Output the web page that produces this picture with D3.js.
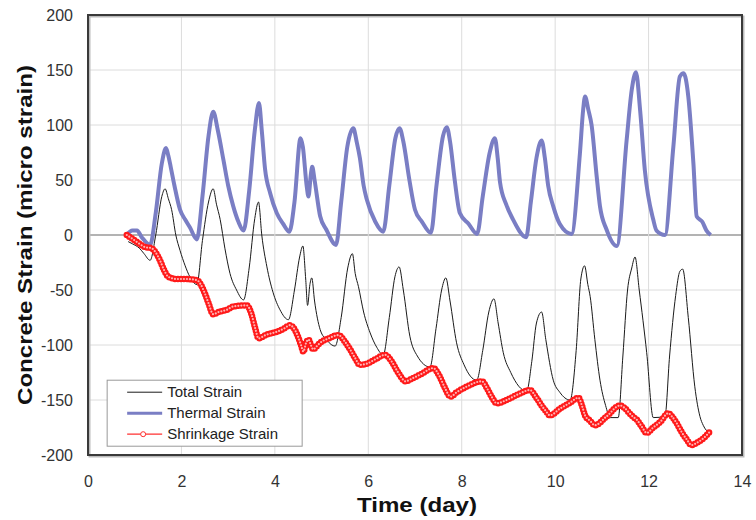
<!DOCTYPE html>
<html>
<head>
<meta charset="utf-8">
<script src="https://cdn.jsdelivr.net/npm/d3@7"></script>
<style>
  body { margin: 0; background: #fff; }
  svg { font-family: "Liberation Sans", Arial, sans-serif; }
</style>
</head>
<body>
<svg id="chart" width="756" height="520"></svg>
<script>
/* podaci - ocitano sa slike: [dan, mikro deformacija] */
var xTicks = [0, 2, 4, 6, 8, 10, 12, 14];
var yTicks = [-200, -150, -100, -50, 0, 50, 100, 150, 200];
var seriesNames = ["Total Strain", "Thermal Strain", "Shrinkage Strain"];

var thermalStrain = [
  [0.83,0],[0.95,4],[1.05,4],[1.15,-2],[1.33,-9],[1.45,20],[1.58,65],[1.67,79],[1.72,72],[1.77,62],
  [1.85,45],[1.97,23],[2.08,14],[2.18,7],[2.33,-4],[2.45,35],[2.58,90],[2.68,112],[2.78,95],[2.9,68],
  [3.0,45],[3.11,26],[3.22,12],[3.33,4],[3.45,40],[3.57,95],[3.66,120],[3.72,95],[3.79,60],[3.9,38],
  [4.04,20],[4.18,10],[4.31,3],[4.42,30],[4.55,88],[4.6,80],[4.68,45],[4.72,35],[4.77,55],[4.8,62],
  [4.85,50],[4.97,17],[5.1,5],[5.31,-9],[5.42,30],[5.55,80],[5.68,97],[5.75,85],[5.82,70],[5.9,45],
  [5.97,32],[6.15,12],[6.32,3],[6.45,45],[6.58,88],[6.67,97],[6.75,85],[6.88,50],[7.0,23],[7.15,12],
  [7.34,2],[7.46,45],[7.6,90],[7.68,98],[7.75,85],[7.85,50],[7.96,20],[8.15,10],[8.33,1],[8.45,35],
  [8.6,75],[8.71,88],[8.77,70],[8.82,48],[8.95,28],[9.1,14],[9.38,-2],[9.48,30],[9.6,70],[9.71,86],
  [9.78,70],[9.85,45],[9.96,26],[10.1,10],[10.35,1],[10.53,74],[10.6,114],[10.64,126],[10.71,114],[10.78,100],
  [10.89,53],[10.96,26],[11.1,5],[11.32,-10],[11.53,86],[11.64,132],[11.73,148],[11.82,113],[11.92,59],[12.1,14],
  [12.17,4],[12.35,0],[12.53,80],[12.67,144],[12.75,147],[12.85,126],[12.96,65],[13.03,17],[13.15,12],[13.24,4],
  [13.33,0]
];

var totalStrain = [
  [0.86,-6],[0.95,-8],[1.1,-12],[1.2,-17],[1.33,-23],[1.45,0],[1.58,35],[1.65,42],[1.72,33],[1.79,23],
  [1.88,0],[1.97,-14],[2.08,-28],[2.18,-38],[2.33,-45],[2.45,-5],[2.58,30],[2.68,42],[2.75,28],[2.83,14],
  [2.93,-12],[3.04,-35],[3.18,-50],[3.33,-59],[3.45,-30],[3.57,15],[3.65,30],[3.72,0],[3.83,-29],[3.96,-52],
  [4.11,-68],[4.29,-77],[4.42,-50],[4.53,-20],[4.6,-10],[4.66,-40],[4.7,-64],[4.75,-45],[4.79,-39],[4.85,-60],
  [4.97,-86],[5.12,-96],[5.29,-101],[5.42,-75],[5.56,-30],[5.66,-17],[5.72,-35],[5.79,-47],[5.9,-70],[6.04,-89],
  [6.18,-102],[6.32,-109],[6.45,-75],[6.57,-38],[6.66,-29],[6.75,-50],[6.89,-92],[7.05,-110],[7.32,-120],[7.45,-85],
  [7.57,-50],[7.66,-39],[7.75,-60],[7.89,-98],[8.05,-118],[8.32,-132],[8.45,-105],[8.58,-70],[8.69,-58],[8.78,-80],
  [8.89,-107],[9.05,-125],[9.39,-142],[9.5,-115],[9.6,-80],[9.71,-70],[9.8,-95],[9.96,-132],[10.1,-143],[10.32,-150],
  [10.45,-105],[10.55,-40],[10.63,-28],[10.7,-45],[10.75,-56],[10.85,-95],[10.96,-132],[11.08,-155],[11.18,-166],[11.35,-166],
  [11.45,-110],[11.55,-50],[11.64,-30],[11.71,-20],[11.8,-50],[11.96,-107],[12.1,-166],[12.35,-165],[12.45,-110],[12.58,-55],
  [12.67,-33],[12.73,-31],[12.85,-75],[12.99,-138],[13.1,-165],[13.17,-173],[13.3,-180]
];

var shrinkageStrain = [
  [0.83,0],[0.9,-2],[1.0,-5],[1.1,-8],[1.22,-11],[1.36,-12],[1.45,-16],[1.54,-23],[1.63,-32],[1.72,-38],
  [1.9,-40],[2.1,-40],[2.33,-41],[2.4,-44],[2.5,-53],[2.58,-62],[2.68,-72],[2.8,-70],[2.97,-68],[3.11,-65],
  [3.4,-64],[3.5,-72],[3.58,-85],[3.65,-94],[3.8,-91],[4.04,-88],[4.2,-85],[4.32,-82],[4.45,-88],[4.5,-93],
  [4.56,-100],[4.61,-106],[4.67,-98],[4.72,-95],[4.77,-100],[4.82,-104],[4.9,-101],[4.97,-98],[5.15,-94],[5.36,-91],
  [5.5,-97],[5.61,-104],[5.72,-112],[5.82,-118],[5.97,-117],[6.15,-113],[6.36,-109],[6.5,-115],[6.61,-123],[6.7,-129],
  [6.79,-133],[6.96,-130],[7.15,-126],[7.39,-121],[7.52,-128],[7.64,-139],[7.76,-147],[7.89,-143],[8.1,-138],[8.43,-133],
  [8.55,-140],[8.64,-147],[8.75,-153],[8.96,-150],[9.2,-145],[9.46,-141],[9.6,-148],[9.71,-155],[9.8,-160],[9.89,-164],
  [10.1,-158],[10.3,-153],[10.5,-148],[10.58,-156],[10.64,-164],[10.75,-169],[10.85,-173],[11.1,-165],[11.39,-155],[11.48,-157],
  [11.57,-161],[11.66,-165],[11.75,-168],[11.85,-174],[11.96,-180],[12.1,-175],[12.25,-170],[12.42,-162],[12.5,-165],[12.6,-171],
  [12.72,-180],[12.82,-186],[12.92,-191],[13.03,-189],[13.14,-186],[13.31,-179]
];

/* dimenzije */
var margin = {left: 88, top: 15, right: 14, bottom: 65};
var width = 756 - margin.left - margin.right;
var height = 520 - margin.top - margin.bottom;

var svg = d3.select('#chart');
var g = svg.append('g').attr('transform', 'translate(' + margin.left + ',' + margin.top + ')');

var x = d3.scaleLinear().domain([0, 14]).range([0, width]);
var y = d3.scaleLinear().domain([-200, 200]).range([height, 0]);

// mreza
g.selectAll('.hgrid').data(yTicks).enter().append('line')
  .attr('x1', 0).attr('x2', width)
  .attr('y1', d => y(d)).attr('y2', d => y(d))
  .attr('stroke', d => d === 0 ? '#9a9a9a' : '#dcdcdc')
  .attr('stroke-width', d => d === 0 ? 1.5 : 1);
g.selectAll('.vgrid').data(xTicks).enter().append('line')
  .attr('y1', 0).attr('y2', height)
  .attr('x1', d => x(d)).attr('x2', d => x(d))
  .attr('stroke', '#dcdcdc');

// ose (obican minus kao na originalu)
var yAxis = g.append('g').call(d3.axisLeft(y).tickValues(yTicks).tickSize(0).tickPadding(15)
  .tickFormat(d => String(d)));
var xAxis = g.append('g').attr('transform', 'translate(0,' + height + ')')
  .call(d3.axisBottom(x).tickValues(xTicks).tickSize(0).tickPadding(21));
[xAxis, yAxis].forEach(function(a) {
  a.select('.domain').remove();
  a.selectAll('text').attr('font-size', 16).attr('fill', '#333')
    .attr('font-family', '"Liberation Sans", Arial, sans-serif');
});

// linije
var line = d3.line().curve(d3.curveMonotoneX).x(d => x(d[0])).y(d => y(d[1]));

g.append('path').attr('d', line(thermalStrain))
  .attr('fill', 'none').attr('stroke', '#7a7ec4').attr('stroke-width', 4)
  .attr('stroke-linejoin', 'round');

g.append('path').attr('d', line(totalStrain))
  .attr('fill', 'none').attr('stroke', '#1a1a1a').attr('stroke-width', 1);

// shrinkage - gusti kruzni markeri (crvena traka sa svijetlim sredinama)
var shrinkPath = line(shrinkageStrain);
g.append('path').attr('d', shrinkPath)
  .attr('fill', 'none').attr('stroke', '#ff1a1a').attr('stroke-width', 6.5)
  .attr('stroke-linecap', 'round').attr('stroke-linejoin', 'round')
  .attr('stroke-dasharray', '0 3');
g.append('path').attr('d', shrinkPath)
  .attr('fill', 'none').attr('stroke', '#ffb4b4').attr('stroke-width', 2.2)
  .attr('stroke-linecap', 'round')
  .attr('stroke-dasharray', '0 3');

// okvir
g.append('rect').attr('x', 1.5).attr('y', 1.5).attr('width', width).attr('height', height)
  .attr('fill', 'none').attr('stroke', '#bbb').attr('stroke-width', 2);
g.append('rect').attr('width', width).attr('height', height)
  .attr('fill', 'none').attr('stroke', '#3a3a3a').attr('stroke-width', 2);

// legenda
var legend = g.append('g').attr('transform', 'translate(' + (x(0.41)) + ',' + (y(-132)) + ')');
legend.append('rect').attr('width', 195).attr('height', 66)
  .attr('fill', '#fff').attr('stroke', '#999').attr('stroke-width', 1);
var legStyles = [
  {color: '#1a1a1a', w: 1},
  {color: '#7a7ec4', w: 3},
  {color: '#ff3030', w: 1.2}
];
seriesNames.forEach(function(name, i) {
  var ly = 12 + i * 21;
  legend.append('line').attr('x1', 20).attr('x2', 55).attr('y1', ly).attr('y2', ly)
    .attr('stroke', legStyles[i].color).attr('stroke-width', legStyles[i].w);
  if (i === 2) {
    legend.append('circle').attr('cx', 36).attr('cy', ly).attr('r', 2.5)
      .attr('fill', '#fff').attr('stroke', '#ff3030').attr('stroke-width', 1);
  }
  legend.append('text').attr('x', 60).attr('y', ly + 5).attr('font-size', 15)
    .attr('fill', '#222').text(name);
});

// naslovi osa
svg.append('text').attr('x', margin.left + x(7) + 2).attr('y', 512)
  .attr('text-anchor', 'middle').attr('font-size', 20).attr('font-weight', 'bold')
  .attr('textLength', 120).attr('lengthAdjust', 'spacingAndGlyphs')
  .attr('fill', '#111').text('Time (day)');
svg.append('text')
  .attr('transform', 'translate(32,' + (margin.top + height / 2) + ') rotate(-90)')
  .attr('text-anchor', 'middle').attr('font-size', 21).attr('font-weight', 'bold')
  .attr('textLength', 340).attr('lengthAdjust', 'spacingAndGlyphs')
  .attr('fill', '#111').text('Concrete Strain (micro strain)');
</script>
</body>
</html>
